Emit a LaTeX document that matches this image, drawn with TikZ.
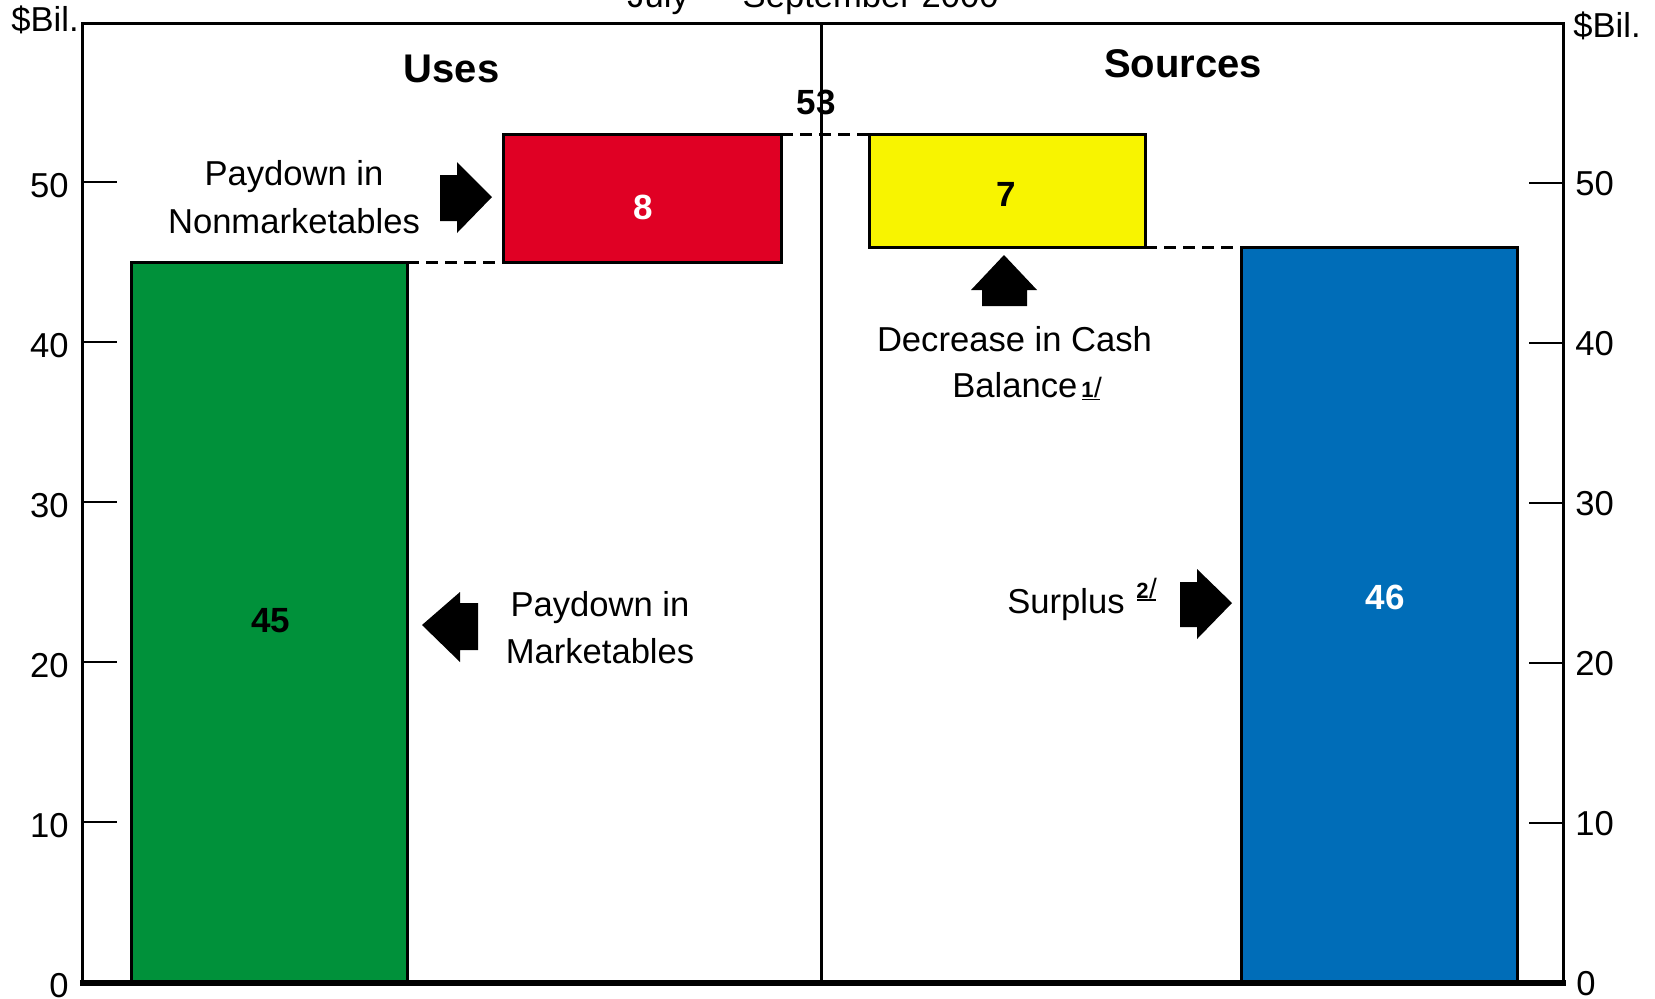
\documentclass[tikz,border=0pt]{standalone}
\usepackage{fontspec}
\setmainfont{Liberation Sans}
\definecolor{barGreen}{HTML}{00913A}
\definecolor{barRed}{HTML}{E00024}
\definecolor{barYellow}{HTML}{F8F400}
\definecolor{barBlue}{HTML}{006DB8}
\begin{document}
\begin{tikzpicture}[x=0.5pt,y=-0.5pt,
  lbl/.style={font=\fontsize{17.3}{20}\selectfont, inner sep=0pt},
  num/.style={font=\fontsize{17.5}{20}\selectfont\bfseries, inner sep=0pt},
  headtext/.style={font=\fontsize{20}{24}\selectfont\bfseries, inner sep=0pt},
  fnote/.style={inner sep=0pt},
  bar/.style={draw=black, line width=1.5pt},
  guide/.style={line width=1.5pt, dash pattern=on 6pt off 3.5pt},
  frame/.style={line width=1.5pt},
  tickline/.style={line width=0.8pt},
  blockarrow/.style={fill=black}]
\useasboundingbox (0,0) rectangle (1655,998);

% bars
\draw[bar, fill=barGreen]  (131,262) rectangle (407,982);
\draw[bar, fill=barRed]    (503,134) rectangle (781,262);
\draw[bar, fill=barYellow] (869,134) rectangle (1145,247);
\draw[bar, fill=barBlue]   (1241,247) rectangle (1517,982);
\coordinate (gTR) at (407,262);
\coordinate (rBL) at (503,262);
\coordinate (rTR) at (781,134);
\coordinate (yTL) at (869,134);
\coordinate (yBR) at (1145,247);
\coordinate (bTL) at (1241,247);

% dashed guides
\draw[guide] (gTR) -- (rBL);
\draw[guide] (rTR) -- (yTL);
\draw[guide] (yBR) -- (bTL);

% frame
\draw[frame] (82,982) -- (82,23) -- (1563,23) -- (1563,983);
\draw[frame] (821,23) -- (821,983);
\draw[line width=3pt] (80,982.5) -- (1566,982.5);

% ticks and labels
\foreach \v/\yy in {10/822,20/662,30/502,40/342,50/182}{
  \draw[tickline] (82,\yy) -- (117,\yy);
  \draw[tickline] (1529,\yy+1) -- (1563,\yy+1);
  \node[lbl, anchor=east] (l\v) at (69,\yy+4) {\v};
  \node[lbl, anchor=west] (r\v) at (1575,\yy+2) {\v};
}
\node[lbl, anchor=east] (l0) at (69,986) {0};
\node[lbl, anchor=west] (r0) at (1576,984) {0};
\node[lbl, anchor=base west] (unitL) at (11,31.5) {\$Bil.};
\node[lbl, anchor=base west] (unitR) at (1573,37) {\$Bil.};

% title (cut off at top)
\node[lbl, anchor=base west] (title) at (627,7) {July \textemdash{} September 2000};

% headings
\node[headtext] (uses) at (451.5,68.5) {Uses};
\node[headtext] (sources) at (1183,63.5) {Sources};

% numbers
\node[num] (n53) at (816,102) {53};
\node[num] (n45) at (270.5,620.5) {45};
\node[num, text=white] (n8) at (643.5,207.5) {8};
\node[num] (n7) at (1006.5,194.5) {7};
\node[num, text=white] (n46) at (1385,597) {46};

% labels
\node[lbl] (pn1) at (294,177) {Paydown in};
\node[lbl] (pn2) at (294,221) {Nonmarketables};
\node[lbl] (pm1) at (600,608) {Paydown in};
\node[lbl] (pm2) at (600,651) {Marketables};
\node[lbl] (dc1) at (1014.5,339) {Decrease in Cash};
\node[lbl, anchor=base west] (dc2) at (952,397) {Balance};
\node[fnote, anchor=base west] (fn1) at (1081,397)
  {{\fontsize{11}{11}\selectfont\bfseries 1}\kern0.2pt{\fontsize{14}{14}\selectfont/}};
\draw[line width=0.8pt] (1082,399.5) -- (1100,399.5);
\node[lbl, anchor=base west] (sp) at (1007,613) {Surplus};
\node[fnote, anchor=base west] (fn2) at (1136,598)
  {{\fontsize{11}{11}\selectfont\bfseries 2}\kern0.2pt{\fontsize{14}{14}\selectfont/}};
\draw[line width=0.8pt] (1137,600) -- (1156,600);

% block arrows
\fill[blockarrow] (440,175) -- (457,175) -- (457,162) -- (492,197) -- (457,233) -- (457,221) -- (440,221) -- cycle;
\fill[blockarrow] (478,603) -- (460,603) -- (460,592) -- (422,625) -- (460,662) -- (460,650) -- (478,650) -- cycle;
\fill[blockarrow] (982,306) -- (982,290) -- (971,290) -- (1004,255) -- (1037,290) -- (1027,290) -- (1027,306) -- cycle;
\fill[blockarrow] (1180,582) -- (1197,582) -- (1197,569) -- (1232,603) -- (1197,639) -- (1197,627) -- (1180,627) -- cycle;
\end{tikzpicture}
\end{document}
